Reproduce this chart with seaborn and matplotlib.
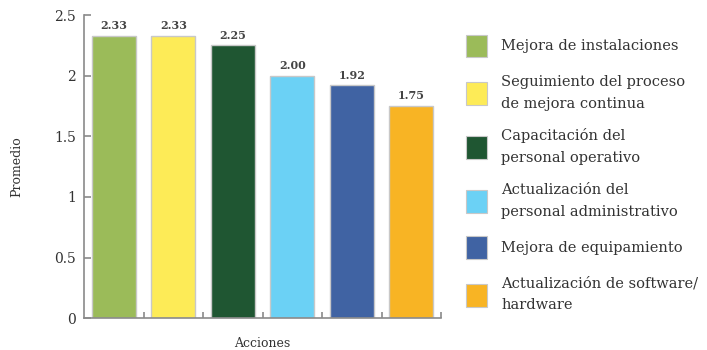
import matplotlib
matplotlib.use("Agg")
import matplotlib.pyplot as plt
from matplotlib.patches import Patch
import seaborn as sns
import pandas as pd
import numpy as np

acciones = [
    "Mejora de instalaciones",
    "Seguimiento del proceso\nde mejora continua",
    "Capacitación del\npersonal operativo",
    "Actualización del\npersonal administrativo",
    "Mejora de equipamiento",
    "Actualización de software/\nhardware",
]
promedio = [2.33, 2.33, 2.25, 2.00, 1.92, 1.75]
colores = ["#9BBB59", "#FDEB57", "#1F5632", "#6BD1F5", "#4063A3", "#F8B424"]
yticks = [0, 0.5, 1, 1.5, 2, 2.5]
ytick_labels = ["0", "0.5", "1", "1.5", "2", "2.5"]

sns.set_theme(style="white")
plt.rcParams["font.family"] = ["DejaVu Serif"]
text_color = "#333333"
spine_color = "#8a8a8a"

df = pd.DataFrame({"Acciones": acciones, "Promedio": promedio})

fig = plt.figure(figsize=(7.07, 3.5), dpi=100)
ax = fig.add_axes([0.119, 0.091, 0.505, 0.866])

sns.barplot(data=df, x="Acciones", y="Promedio", hue="Acciones",
            palette=colores, saturation=1, legend=False, width=0.74,
            edgecolor="#c8c8c8", linewidth=1.0, ax=ax)

ax.set_xlim(-0.5, len(acciones) - 0.5)
ax.set_ylim(0, 2.5)
ax.set_yticks(yticks)
ax.set_yticklabels(ytick_labels, fontsize=10, color=text_color)
ax.set_xticks([])
ax.set_xticks(np.arange(len(acciones)) + 0.5, minor=True)
ax.tick_params(axis="x", which="minor", direction="in", length=4,
               color=spine_color, width=1.2, bottom=True)
ax.tick_params(axis="y", direction="in", length=5, color=spine_color,
               width=1.2, left=True, pad=6)

for s in ["top", "right"]:
    ax.spines[s].set_visible(False)
for s in ["left", "bottom"]:
    ax.spines[s].set_color(spine_color)
    ax.spines[s].set_linewidth(1.2)

for i, v in enumerate(promedio):
    ax.text(i, v + 0.04, f"{v:.2f}", ha="center", va="bottom",
            fontsize=8, fontweight="bold", color="#444444")

ax.set_xlabel("Acciones", fontsize=9, color=text_color, labelpad=10)
ax.set_ylabel("Promedio", fontsize=9, color=text_color, labelpad=22)

handles = [Patch(facecolor=c, edgecolor="#c8c8c8", linewidth=0.8) for c in colores]
leg = fig.legend(handles, acciones, loc="upper left",
                 bbox_to_anchor=(0.651, 0.918), frameon=False,
                 fontsize=10.5, handlelength=1.45, handleheight=2.0,
                 labelspacing=1.22, handletextpad=0.95, borderaxespad=0)
for t in leg.get_texts():
    t.set_color(text_color)
    t.set_linespacing(1.7)

fig.savefig("out.png", dpi=100)
